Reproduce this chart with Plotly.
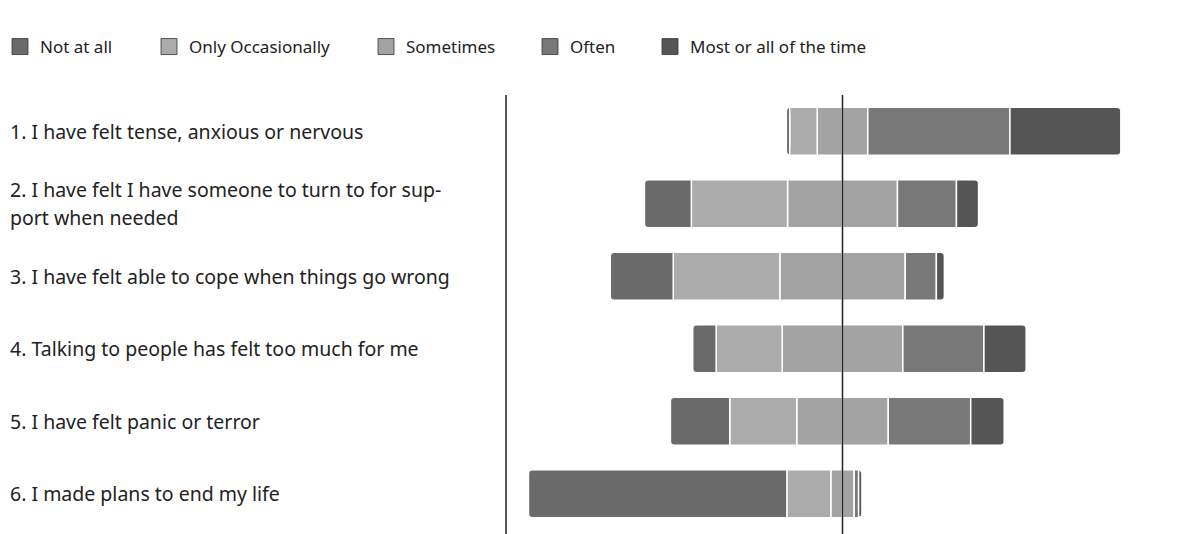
import plotly.graph_objects as go

categories = [
    "1. I have felt tense, anxious or nervous",
    "2. I have felt I have someone to turn to for sup-<br>port when needed",
    "3. I have felt able to cope when things go wrong",
    "4. Talking to people has felt too much for me",
    "5. I have felt panic or terror",
    "6. I made plans to end my life",
]
levels = ["Not at all", "Only Occasionally", "Sometimes", "Often", "Most or all of the time"]
not_at_all = [1.0, 14.0, 18.8, 7.0, 17.7, 77.1]
only_occasionally = [8.2, 28.7, 31.8, 19.7, 20.0, 13.1]
sometimes = [15.1, 32.8, 37.4, 36.0, 27.3, 7.0]
often = [42.4, 17.6, 9.3, 24.2, 24.6, 1.3]
most_of_time = [33.1, 6.6, 2.4, 12.6, 10.0, 1.0]

colors = ["#6a6a6a", "#ababab", "#a3a3a3", "#787878", "#555555"]
legend_text_x = [40, 189, 406, 570, 690]  # legend text start (px)

W, H = 1178, 534
font = "Noto Sans"
fig = go.Figure()

half = [v / 2 for v in sometimes]
seg_line = dict(color="white", width=1.5)

def bar(vals, name, color):
    fig.add_trace(go.Bar(
        y=categories, x=vals, orientation="h", name=name,
        marker=dict(color=color, line=seg_line), width=0.66,
        showlegend=False, hoverinfo="x+name",
    ))

# negative side (closest to zero first)
bar([-v for v in half], levels[2], colors[2])
bar([-v for v in only_occasionally], levels[1], colors[1])
bar([-v for v in not_at_all], levels[0], colors[0])
# positive side
bar(half, levels[2], colors[2])
bar(often, levels[3], colors[3])
bar(most_of_time, levels[4], colors[4])

# legend entries
for k, (name, color) in enumerate(zip(levels, colors)):
    key = "legend" if k == 0 else f"legend{k+1}"
    fig.add_trace(go.Scatter(
        x=[None], y=[None], mode="markers", name=name, legend=key,
        marker=dict(symbol="square", size=16, color=color,
                    line=dict(color="#333333", width=0.8)),
        showlegend=True,
    ))

L, T, B = 506, 95, 4
plot_w = W - L

for c in categories:
    parts = c.split("<br>")
    n = len(parts)
    for j, p in enumerate(parts):
        fig.add_annotation(
            x=(8 - L) / plot_w, xref="paper", xanchor="left",
            y=c, yref="y", yanchor="middle",
            yshift=(n - 1) * 14 - j * 28,
            text=p, showarrow=False,
            font=dict(family=font, size=19.5, color="#222222"),
        )

legends = {}
for k, tx in enumerate(legend_text_x):
    key = "legend" if k == 0 else f"legend{k+1}"
    legends[key] = dict(
        xref="container", yref="container",
        x=max(tx - 40, 0) / W, y=1 - 47 / H, xanchor="left", yanchor="middle",
        orientation="h", bgcolor="rgba(0,0,0,0)", borderwidth=0,
        font=dict(family=font, size=17, color="#222222"),
        itemclick=False, itemdoubleclick=False,
    )

fig.update_layout(
    width=W, height=H,
    margin=dict(l=L, r=0, t=T, b=B),
    barmode="relative", barcornerradius=4,
    plot_bgcolor="white", paper_bgcolor="white",
    xaxis=dict(range=[-100.4, 100.1], visible=False, fixedrange=True),
    yaxis=dict(categoryorder="array", categoryarray=categories, autorange="reversed",
               showticklabels=False, showgrid=False, zeroline=False, fixedrange=True),
    font=dict(family=font),
    shapes=[
        dict(type="line", xref="paper", yref="paper", x0=0, x1=0, y0=-0.02, y1=1,
             line=dict(color="#222222", width=1.5)),
        dict(type="line", xref="x", yref="paper", x0=0, x1=0, y0=-0.02, y1=1,
             line=dict(color="#222222", width=1.5), layer="above"),
    ],
    **legends,
)

fig.write_html("out.html", config={"displayModeBar": False},
               post_script="document.body.style.margin='0';")
